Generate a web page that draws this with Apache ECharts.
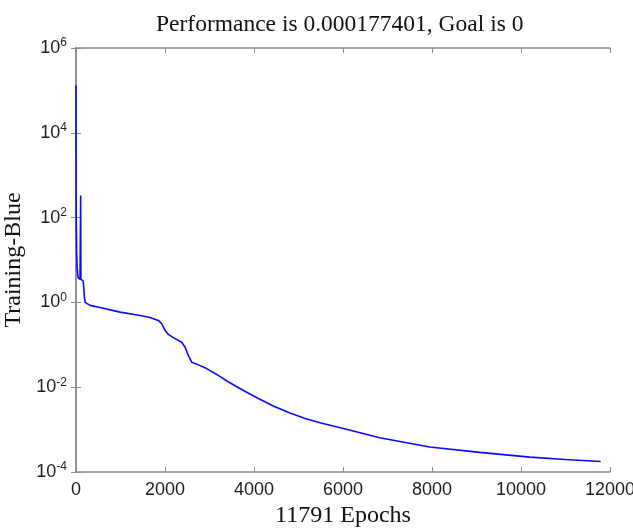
<!DOCTYPE html>
<html>
<head>
<meta charset="utf-8">
<script src="https://cdn.jsdelivr.net/npm/echarts@6/dist/echarts.min.js"></script>
<style>
html,body{margin:0;padding:0;background:#fff;}
#c{width:633px;height:528px;}
</style>
</head>
<body>
<div id="c"></div>
<script>
// Training performance
const epochs = [0, 3, 5, 15, 25, 45, 90, 100, 105, 110, 130, 160, 175, 190, 205, 240, 315, 540, 990, 1438, 1663, 1850, 1925, 2000, 2075, 2187, 2375, 2450, 2524, 2600, 2712, 2937, 3162, 3400, 3685, 3835, 4100, 4434, 4809, 5150, 5483, 6075, 6824, 7948, 9072, 10196, 11000, 11791];
const performance = [1.3e5, 300, 100, 14, 6.7, 3.9, 3.5, 3.4, 330, 3.5, 3.3, 3.2, 2.2, 1.3, 1.0, 0.92, 0.85, 0.76, 0.59, 0.49, 0.44, 0.376, 0.316, 0.22, 0.176, 0.148, 0.115, 0.089, 0.056, 0.039, 0.035, 0.0275, 0.020, 0.0138, 0.0093, 0.0076, 0.0054, 0.0036, 0.00245, 0.00182, 0.00145, 0.00102, 0.00064, 0.00039, 0.00029, 0.000224, 0.000197, 0.000177];
const xTicks = [0, 2000, 4000, 6000, 8000, 10000, 12000];
const yExponents = [-4, -2, 0, 2, 4, 6];
const titleText = 'Performance is 0.000177401, Goal is 0';
const xName = '11791 Epochs';
const yName = 'Training-Blue';

const chart = echarts.init(document.getElementById('c'));
const axisColor = '#8a8a8a';
const labelColor = '#1e1e1e';
const serif = '"Liberation Serif", "Times New Roman", serif';
const sans = '"Liberation Sans", Arial, sans-serif';

const xMin = xTicks[0], xMax = xTicks[xTicks.length - 1], xInt = xTicks[1] - xTicks[0];
const yMin = Math.pow(10, yExponents[0]), yMax = Math.pow(10, yExponents[yExponents.length - 1]);
const yInt = yExponents[1] - yExponents[0];

const tickInside = {show: true, inside: true, length: 5, lineStyle: {color: axisColor, width: 1}};
const lineStyle = {show: true, lineStyle: {color: axisColor, width: 1.5}};

chart.setOption({
  animation: false,
  backgroundColor: '#fff',
  title: {
    text: titleText,
    left: 151,
    top: 8,
    textStyle: {fontFamily: serif, fontSize: 23.5, fontWeight: 'normal', color: '#111'}
  },
  grid: {left: 76, right: 23, top: 48, bottom: 56, containLabel: false, outerBoundsMode: 'none'},
  xAxis: [{
    type: 'value', min: xMin, max: xMax, interval: xInt,
    position: 'bottom',
    name: xName, nameLocation: 'middle', nameGap: 32,
    nameTextStyle: {fontFamily: serif, fontSize: 24, color: '#111'},
    axisLine: lineStyle, axisTick: tickInside, splitLine: {show: false},
    axisLabel: {fontFamily: sans, fontSize: 18, color: labelColor, margin: 9,
      formatter: function (v) { return String(v); }}
  }, {
    type: 'value', min: xMin, max: xMax, interval: xInt,
    position: 'top',
    axisLine: lineStyle, axisTick: tickInside, splitLine: {show: false},
    axisLabel: {show: false}
  }],
  yAxis: [{
    type: 'log', logBase: 10, min: yMin, max: yMax, interval: yInt,
    position: 'left',
    name: yName, nameLocation: 'middle', nameGap: 46,
    nameTextStyle: {fontFamily: serif, fontSize: 24, color: '#111'},
    axisLine: lineStyle, axisTick: tickInside, splitLine: {show: false}, minorTick: {show: false},
    axisLabel: {
      margin: 9,
      formatter: function (v) {
        const e = Math.round(Math.log10(v));
        return '{b|10}{s|' + e + '}';
      },
      rich: {
        b: {fontFamily: sans, fontSize: 18, color: labelColor, lineHeight: 22},
        s: {fontFamily: sans, fontSize: 12, color: labelColor, lineHeight: 22, verticalAlign: 'top'}
      }
    }
  }, {
    type: 'log', logBase: 10, min: yMin, max: yMax, interval: yInt,
    position: 'right',
    axisLine: lineStyle, axisTick: tickInside, splitLine: {show: false},
    axisLabel: {show: false}
  }],
  series: [{
    type: 'line',
    xAxisIndex: 0, yAxisIndex: 0,
    data: epochs.map((e, i) => [e, performance[i]]),
    showSymbol: false, symbol: 'none',
    lineStyle: {color: '#0a0aff', width: 1.6},
    smooth: false
  }]
});
</script>
</body>
</html>
